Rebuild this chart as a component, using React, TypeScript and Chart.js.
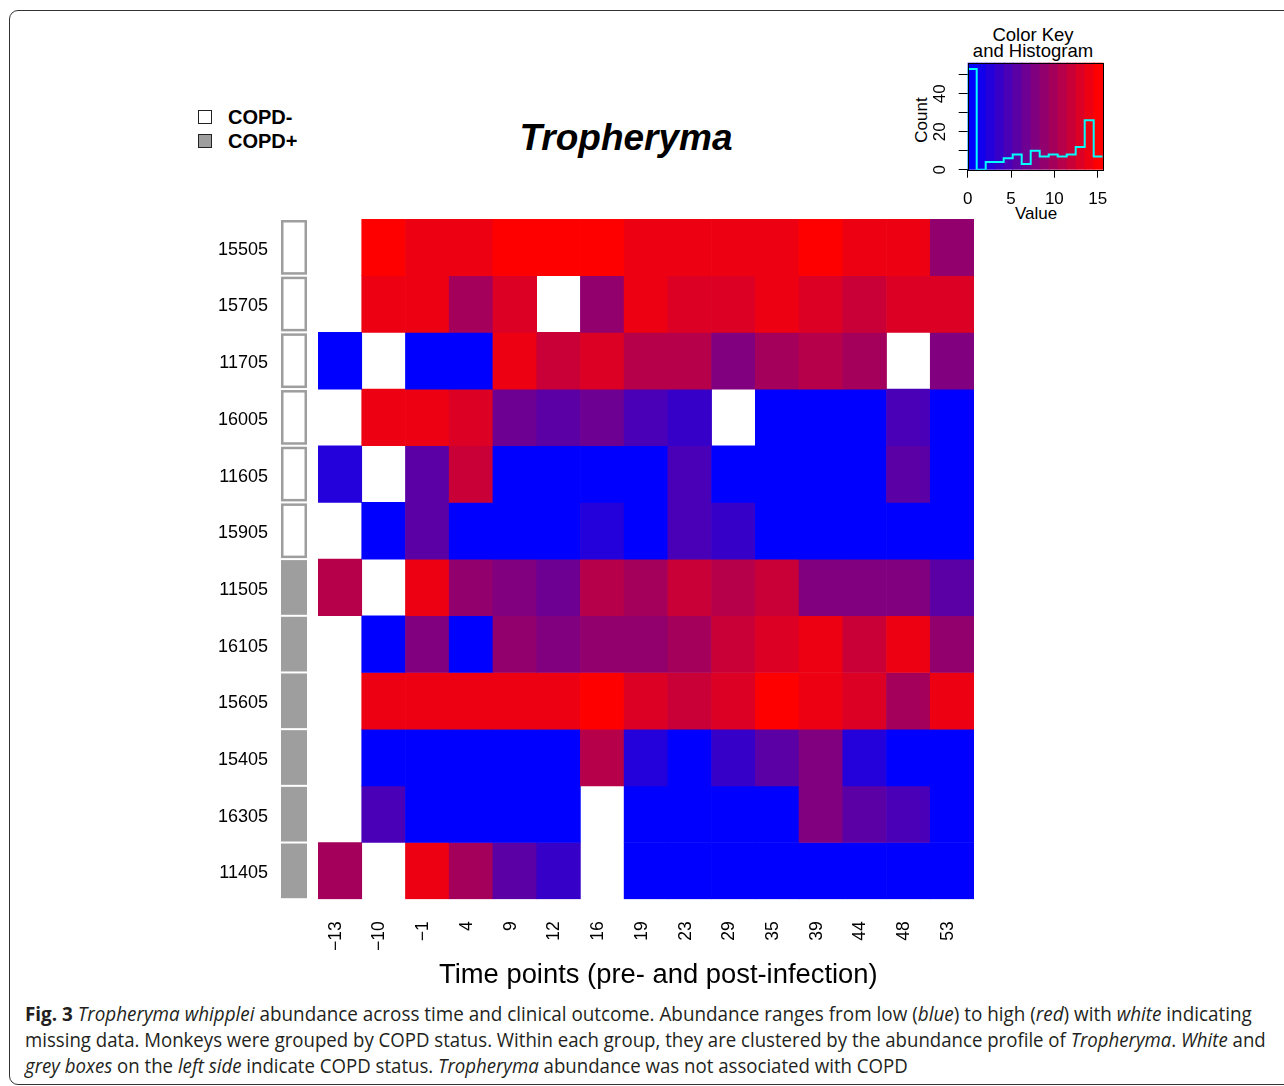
import React, { useEffect, useLayoutEffect, useRef, useState } from "react";
import { Chart, registerables } from "chart.js";

Chart.register(...registerables);

// ---------------- data ----------------
const timePoints = ["−13", "−10", "−1", "4", "9", "12", "16", "19", "23", "29", "35", "39", "44", "48", "53"];
const monkeys = ["15505", "15705", "11705", "16005", "11605", "15905", "11505", "16105", "15605", "15405", "16305", "11405"];
const copdStatus = ["COPD-", "COPD-", "COPD-", "COPD-", "COPD-", "COPD-", "COPD+", "COPD+", "COPD+", "COPD+", "COPD+", "COPD+"];

// Tropheryma abundance per time point (null = missing data)
const r15505 = [null, 15.1, 14.0, 14.0, 15.1, 15.1, 15.1, 14.0, 14.0, 14.0, 14.0, 15.1, 14.0, 14.0, 8.8];
const r15705 = [null, 14.0, 14.0, 9.9, 13.0, null, 8.8, 14.0, 13.0, 13.0, 14.0, 13.0, 12.0, 13.0, 13.0];
const r11705 = [0, null, 0, 0, 14.0, 12.0, 13.0, 10.9, 10.9, 7.8, 9.9, 10.9, 9.9, null, 7.8];
const r16005 = [null, 14.0, 14.0, 13.0, 6.8, 5.7, 6.8, 4.7, 3.6, null, 0, 0, 0, 4.7, 0];
const r11605 = [2.6, null, 5.7, 12.0, 0, 0, 0, 0, 4.7, 0, 0, 0, 0, 5.7, 0];
const r15905 = [null, 0, 5.7, 0, 0, 0, 2.6, 0, 4.7, 3.6, 0, 0, 0, 0, 0];
const r11505 = [10.9, null, 14.0, 8.8, 7.8, 6.8, 10.9, 9.9, 12.0, 10.9, 12.0, 7.8, 7.8, 7.8, 5.7];
const r16105 = [null, 0, 7.8, 0, 8.8, 7.8, 8.8, 8.8, 9.9, 12.0, 13.0, 14.0, 12.0, 14.0, 8.8];
const r15605 = [null, 14.0, 14.0, 14.0, 14.0, 14.0, 15.1, 13.0, 12.0, 13.0, 15.1, 14.0, 13.0, 9.9, 14.0];
const r15405 = [null, 0, 0, 0, 0, 0, 10.9, 2.6, 0, 3.6, 5.7, 7.8, 2.6, 0, 0];
const r16305 = [null, 4.7, 0, 0, 0, 0, null, 0, 0, 0, 0, 7.8, 5.7, 4.7, 0];
const r11405 = [9.9, null, 14.0, 9.9, 5.7, 3.6, null, 0, 0, 0, 0, 0, 0, 0, 0];
const rows = [r15505, r15705, r11705, r16005, r11605, r15905, r11505, r16105, r15605, r15405, r16305, r11405];

// colour key & histogram
const keyMax = 15.58;
const nBins = 15;
const histCounts = [53, 0, 4, 4, 6, 8, 3, 10, 7, 8, 7, 8, 12, 26, 7];
const keyTicks = [0, 5, 10, 15];
const countTicks = [0, 10, 20, 30, 40, 50];
const countLabels = [0, 20, 40];
const countMax = 56.3;

// ---------------- helpers ----------------
const FONT = '"Liberation Sans", Arial, Helvetica, sans-serif';
const binW = keyMax / nBins;
const palette = Array.from({ length: nBins }, (_, i) => {
  const r = Math.round((255 * i) / (nBins - 1));
  return `rgb(${r},0,${255 - r})`;
});
const colorFor = (v: number) => palette[Math.max(0, Math.min(nBins - 1, Math.floor(v / binW)))];

const sideBarPlugin = {
  id: "sideBar",
  afterDatasetsDraw(chart: any) {
    const { ctx, chartArea, scales } = chart;
    const y = scales.y;
    const x0 = chartArea.left - 37;
    const w = 26;
    ctx.save();
    copdStatus.forEach((s, i) => {
      const t = y.getPixelForValue(i) + 1;
      const b = y.getPixelForValue(i + 1) - 1;
      if (s === "COPD+") {
        ctx.fillStyle = "#9e9e9e";
        ctx.fillRect(x0, t, w, b - t);
      } else {
        ctx.fillStyle = "#ffffff";
        ctx.fillRect(x0, t, w, b - t);
        ctx.strokeStyle = "#9e9e9e";
        ctx.lineWidth = 2.5;
        ctx.strokeRect(x0 + 1.25, t + 1.25, w - 2.5, b - t - 2.5);
      }
    });
    ctx.restore();
  },
};

const keyPlugin = {
  id: "keyPlugin",
  beforeDatasetsDraw(chart: any) {
    const { ctx, chartArea, scales } = chart;
    const x = scales.x;
    ctx.save();
    palette.forEach((c, i) => {
      const a = x.getPixelForValue(i * binW);
      const b = x.getPixelForValue((i + 1) * binW);
      ctx.fillStyle = c;
      ctx.fillRect(a, chartArea.top, b - a + 0.6, chartArea.bottom - chartArea.top);
    });
    ctx.restore();
  },
  afterDatasetsDraw(chart: any) {
    const { ctx, chartArea, scales } = chart;
    const y = scales.y;
    ctx.save();
    ctx.strokeStyle = "#000";
    ctx.lineWidth = 1;
    ctx.strokeRect(
      Math.round(chartArea.left) + 0.5,
      Math.round(chartArea.top) + 0.5,
      Math.round(chartArea.right - chartArea.left),
      Math.round(chartArea.bottom - chartArea.top)
    );
    ctx.fillStyle = "#000";
    ctx.font = `17px ${FONT}`;
    ctx.textAlign = "center";
    ctx.textBaseline = "middle";
    countLabels.forEach((v) => {
      ctx.save();
      ctx.translate(chartArea.left - 27.5, y.getPixelForValue(v));
      ctx.rotate(-Math.PI / 2);
      ctx.fillText(String(v), 0, 0);
      ctx.restore();
    });
    ctx.restore();
  },
};

function FitLine({ target, style, children }: any) {
  const ref = useRef<HTMLDivElement>(null);
  const [s, setS] = useState(1);
  useLayoutEffect(() => {
    const measure = () => {
      if (ref.current) {
        const w = ref.current.offsetWidth;
        if (w > 0) setS(target / w);
      }
    };
    measure();
    if ((document as any).fonts && (document as any).fonts.ready) {
      (document as any).fonts.ready.then(measure);
    }
  }, [target]);
  return (
    <div
      ref={ref}
      style={{
        ...style,
        position: "absolute",
        whiteSpace: "nowrap",
        width: "max-content",
        transform: `scaleX(${s})`,
        transformOrigin: "left top",
      }}
    >
      {children}
    </div>
  );
}

export default function App() {
  const mainRef = useRef<HTMLCanvasElement>(null);
  const histRef = useRef<HTMLCanvasElement>(null);

  useEffect(() => {
    const datasets = rows.map((vals, i) => ({
      label: monkeys[i],
      data: vals.map((v) => (v === null ? null : [i, i + 1])),
      backgroundColor: vals.map((v) => (v === null ? "rgba(0,0,0,0)" : colorFor(v as number))),
      borderWidth: 0,
      grouped: false,
      barPercentage: 1,
      categoryPercentage: 1,
    }));

    const main = new Chart(mainRef.current as HTMLCanvasElement, {
      type: "bar",
      data: { labels: timePoints, datasets: datasets as any },
      options: {
        animation: false,
        responsive: false,
        devicePixelRatio: 1,
        events: [],
        layout: { padding: { left: 0, top: 219, right: 310, bottom: 0 } },
        plugins: { legend: { display: false }, tooltip: { enabled: false }, title: { display: false } },
        scales: {
          x: {
            type: "category",
            offset: true,
            grid: { display: false, drawTicks: false },
            border: { display: false },
            ticks: {
              autoSkip: false,
              minRotation: 90,
              maxRotation: 90,
              padding: 22,
              labelOffset: -4,
              color: "#000",
              font: { family: FONT, size: 17.5 },
            },
            afterFit: (s: any) => {
              s.height = 58;
            },
          },
          y: {
            type: "linear",
            min: 0,
            max: monkeys.length,
            reverse: true,
            grid: { display: false, drawTicks: false },
            border: { display: false },
            afterBuildTicks: (s: any) => {
              s.ticks = monkeys.map((_, i) => ({ value: i + 0.5 }));
            },
            ticks: {
              autoSkip: false,
              padding: 50,
              labelOffset: 2.5,
              color: "#000",
              font: { family: FONT, size: 18 },
              callback: (_v: any, idx: number) => monkeys[idx],
            },
            afterFit: (s: any) => {
              s.width = 318;
            },
          },
        },
      } as any,
      plugins: [sideBarPlugin],
    });

    // step outline of the histogram: one point per bin start, plus the closing edge
    const histPoints = [
      { x: 0, y: 0 },
      ...histCounts.map((c, i) => ({ x: i * binW + (i === 0 ? 1e-6 : 0), y: c })),
      { x: keyMax, y: histCounts[histCounts.length - 1] },
    ];

    const hist = new Chart(histRef.current as HTMLCanvasElement, {
      type: "line",
      data: {
        datasets: [
          {
            data: histPoints,
            stepped: "before",
            borderColor: "#00ffff",
            borderWidth: 2,
            pointRadius: 0,
            fill: false,
          } as any,
        ],
      },
      options: {
        animation: false,
        responsive: false,
        devicePixelRatio: 1,
        events: [],
        layout: { padding: { left: 0, top: 42.7, right: 17.3, bottom: 0 } },
        plugins: { legend: { display: false }, tooltip: { enabled: false } },
        scales: {
          x: {
            type: "linear",
            min: 0,
            max: keyMax,
            afterBuildTicks: (s: any) => {
              s.ticks = keyTicks.map((v) => ({ value: v }));
            },
            grid: { display: true, drawOnChartArea: false, drawTicks: true, tickLength: 8, color: "#000", lineWidth: 1 },
            border: { display: false },
            ticks: { color: "#000", font: { family: FONT, size: 17 }, padding: 11, maxRotation: 0, autoSkip: false },
            afterFit: (s: any) => {
              s.height = 60.3;
            },
          },
          y: {
            type: "linear",
            min: 0,
            max: countMax,
            afterBuildTicks: (s: any) => {
              s.ticks = countTicks.map((v) => ({ value: v }));
            },
            grid: { display: true, drawOnChartArea: false, drawTicks: true, tickLength: 9, color: "#000", lineWidth: 1 },
            border: { display: false },
            ticks: { display: false },
            afterFit: (s: any) => {
              s.width = 67.7;
            },
          },
        },
      } as any,
      plugins: [keyPlugin],
    });

    return () => {
      main.destroy();
      hist.destroy();
    };
  }, []);

  const text = (extra: any) => ({ position: "absolute" as const, fontFamily: FONT, color: "#000", ...extra });
  const capFont = '"Open Sans", "Noto Sans", sans-serif';
  const capStyle = { fontFamily: capFont, fontSize: 20, lineHeight: "26px", color: "#231f20", left: 25 };

  return (
    <div
      style={{
        position: "absolute",
        left: 0,
        top: 0,
        width: 1284,
        height: 1086,
        overflow: "hidden",
        background: "#fff",
      }}
    >
      <div
        style={{
          position: "absolute",
          left: 9,
          top: 10,
          width: 1300,
          height: 1075,
          border: "1.5px solid #333",
          borderRadius: 9,
          boxSizing: "border-box",
        }}
      />

      {/* legend */}
      <div style={{ position: "absolute", left: 198, top: 110, width: 14, height: 14, border: "1.5px solid #222", boxSizing: "border-box", background: "#fff" }} />
      <div style={{ position: "absolute", left: 198, top: 134, width: 14, height: 14, border: "1.5px solid #222", boxSizing: "border-box", background: "#9e9e9e" }} />
      <div style={text({ left: 228, top: 105, fontSize: 20, lineHeight: "24px", fontWeight: "bold" })}>COPD-</div>
      <div style={text({ left: 228, top: 129, fontSize: 20, lineHeight: "24px", fontWeight: "bold" })}>COPD+</div>

      {/* title */}
      <div style={text({ left: 426, width: 400, textAlign: "center", top: 118, fontSize: 37, lineHeight: "40px", fontWeight: "bold", fontStyle: "italic" })}>
        Tropheryma
      </div>

      {/* colour key texts */}
      <div style={text({ left: 933, width: 200, textAlign: "center", top: 27, fontSize: 18.5, lineHeight: "16px" })}>
        Color Key
        <br />
        and Histogram
      </div>
      <div
        style={text({
          left: 921.5 - 40,
          top: 120 - 10,
          width: 80,
          textAlign: "center",
          fontSize: 17,
          lineHeight: "20px",
          transform: "rotate(-90deg)",
        })}
      >
        Count
      </div>
      <div style={text({ left: 986, width: 100, textAlign: "center", top: 204, fontSize: 17, lineHeight: "20px" })}>Value</div>

      <canvas ref={histRef} width={220} height={210} style={{ position: "absolute", left: 900, top: 20, width: 220, height: 210 }} />
      <canvas ref={mainRef} width={1284} height={960} style={{ position: "absolute", left: 0, top: 0, width: 1284, height: 960 }} />

      {/* x-axis title */}
      <FitLine target={439} style={{ left: 439, top: 958, fontFamily: FONT, fontSize: 27, lineHeight: "32px", color: "#000" }}>
        Time points (pre- and post-infection)
      </FitLine>

      {/* caption */}
      <FitLine target={1227} style={{ ...capStyle, top: 1001 }}>
        <b>Fig. 3</b> <i>Tropheryma whipplei</i> abundance across time and clinical outcome. Abundance ranges from low (<i>blue</i>) to
        high (<i>red</i>) with <i>white</i> indicating
      </FitLine>
      <FitLine target={1241} style={{ ...capStyle, top: 1027 }}>
        missing data. Monkeys were grouped by COPD status. Within each group, they are clustered by the abundance profile of{" "}
        <i>Tropheryma</i>. <i>White</i> and
      </FitLine>
      <FitLine target={883} style={{ ...capStyle, top: 1053 }}>
        <i>grey boxes</i> on the <i>left side</i> indicate COPD status. <i>Tropheryma</i> abundance was not associated with COPD
      </FitLine>
    </div>
  );
}
